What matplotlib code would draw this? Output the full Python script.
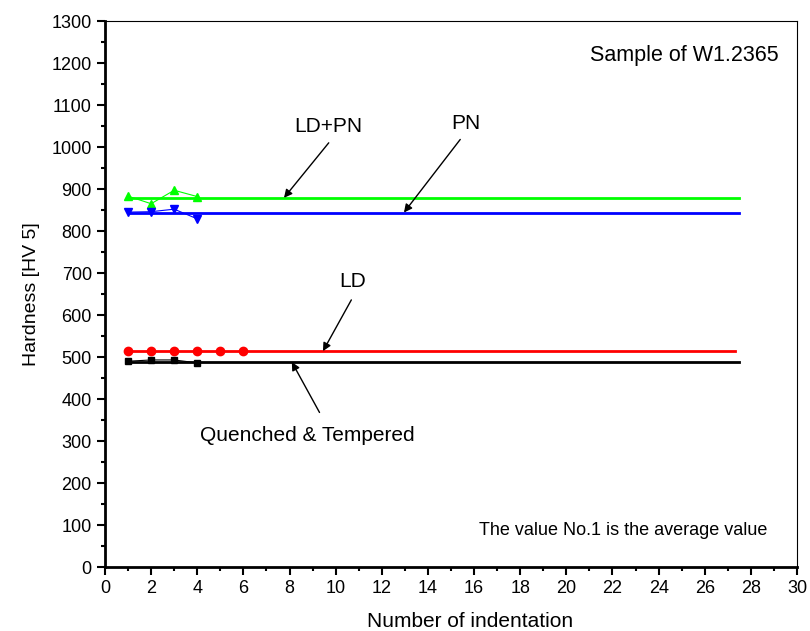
import matplotlib.pyplot as plt
from matplotlib.ticker import MultipleLocator

plt.rcParams['font.family'] = ['Liberation Sans', 'DejaVu Sans']

# measured hardness values (HV 5), point No.1 is the average
n_ldpn = [1, 2, 3, 4]
hv_ldpn = [883, 865, 897, 882]
n_pn = [1, 2, 3, 4]
hv_pn = [845, 846, 852, 829]
n_ld = [1, 2, 3, 4, 5, 6]
hv_ld = [514, 514, 514, 514, 514, 514]
n_qt = [1, 2, 3, 4]
hv_qt = [490, 493, 493, 486]

# average lines: start, end, level
avg_start = 1
avg_end = 27.5
avg_ldpn = 879
avg_pn = 844
avg_ld = 514
avg_qt = 488

fig = plt.figure(figsize=(8.1, 6.31), dpi=100)
ax = fig.add_axes([0.1296, 0.1014, 0.8544, 0.8653])

ax.plot(n_ldpn, hv_ldpn, color="#00ff00", marker="^", ms=6, lw=0.8)
ax.plot(n_pn, hv_pn, color="#0000ff", marker="v", ms=6, lw=0.8)
ax.plot(n_ld, hv_ld, color="#ff0000", marker="o", ms=6, lw=0.8)
ax.plot(n_qt, hv_qt, color="black", marker="s", ms=5, lw=0.8)

ax.plot([avg_start, avg_end], [avg_ldpn, avg_ldpn], color="#00ff00", lw=2)
ax.plot([avg_start, avg_end], [avg_pn, avg_pn], color="#0000ff", lw=2)
ax.plot([avg_start, 27.3], [avg_ld, avg_ld], color="#ff0000", lw=2)
ax.plot([avg_start, avg_end], [avg_qt, avg_qt], color="black", lw=2)

arrow = dict(arrowstyle="-|>", color="black", lw=1, mutation_scale=12, shrinkA=0, shrinkB=0)
ax.annotate("", xy=(7.76, avg_ldpn), xytext=(9.7, 1010), arrowprops=arrow)
ax.text(9.7, 1048, "LD+PN", ha="center", va="center", fontsize=15)
ax.annotate("", xy=(12.96, avg_pn), xytext=(15.4, 1018), arrowprops=arrow)
ax.text(15.65, 1055, "PN", ha="center", va="center", fontsize=15)
ax.annotate("", xy=(9.45, avg_ld), xytext=(10.68, 636), arrowprops=arrow)
ax.text(10.75, 679, "LD", ha="center", va="center", fontsize=15)
ax.annotate("", xy=(8.1, avg_qt), xytext=(9.3, 368), arrowprops=arrow)
ax.text(8.76, 314, "Quenched & Tempered", ha="center", va="center", fontsize=15)

ax.text(29.2, 1217, "Sample of W1.2365", ha="right", va="center", fontsize=15.5)
ax.text(28.7, 86, "The value No.1 is the average value", ha="right", va="center", fontsize=13)

ax.set_xlim(0, 30)
ax.set_ylim(0, 1300)
ax.xaxis.set_major_locator(MultipleLocator(2))
ax.xaxis.set_minor_locator(MultipleLocator(1))
ax.yaxis.set_major_locator(MultipleLocator(100))
ax.yaxis.set_minor_locator(MultipleLocator(50))
ax.tick_params(which="both", direction="out", top=False, right=False, width=1.5, labelsize=13)
ax.tick_params(which="major", length=6)
ax.tick_params(which="minor", length=3)
ax.spines["left"].set_linewidth(2)
ax.spines["bottom"].set_linewidth(2)
ax.spines["top"].set_linewidth(0.8)
ax.spines["right"].set_linewidth(0.8)

ax.set_xlabel("Number of indentation", fontsize=15)
ax.xaxis.set_label_coords(0.527, -0.082)
ax.set_ylabel("Hardness [HV 5]", fontsize=14, labelpad=8)

fig.savefig("out.png", dpi=100)
